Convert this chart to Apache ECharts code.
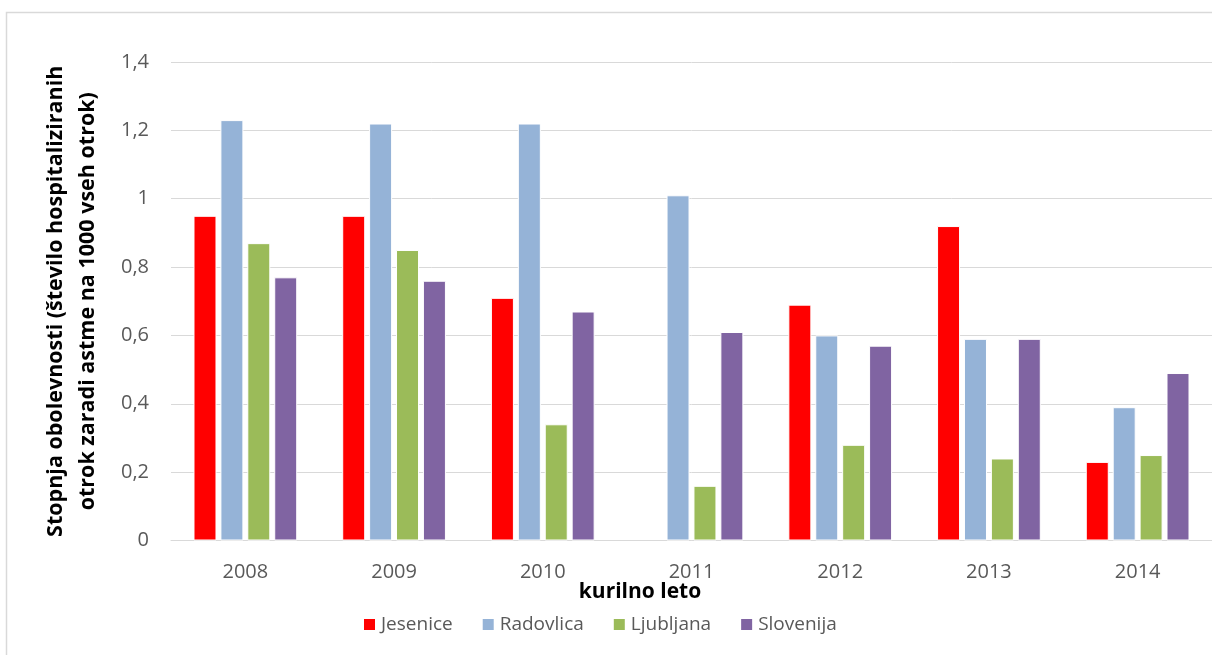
<!DOCTYPE html>
<html>
<head>
<meta charset="utf-8">
<script src="https://cdn.jsdelivr.net/npm/echarts@6/dist/echarts.min.js"></script>
<style>
html,body{margin:0;padding:0;background:#fff;}
#c{width:1212px;height:655px;}
</style>
</head>
<body>
<div id="c"></div>
<script>
const categories = ['2008','2009','2010','2011','2012','2013','2014'];
const jesenice  = [0.95, 0.95, 0.71, null, 0.69, 0.92, 0.23];
const radovlica = [1.23, 1.22, 1.22, 1.01, 0.60, 0.59, 0.39];
const ljubljana = [0.87, 0.85, 0.34, 0.16, 0.28, 0.24, 0.25];
const slovenija = [0.77, 0.76, 0.67, 0.61, 0.57, 0.59, 0.49];
const seriesNames = ['Jesenice','Radovlica','Ljubljana','Slovenija'];
const colors = ['#FF0000','#95B3D7','#9BBB59','#8064A2'];
const yTitle = 'Stopnja obolevnosti (število hospitaliziranih\notrok zaradi astme na 1000 vseh otrok)';
const xTitle = 'kurilno leto';

const font = 'Open Sans';
const chart = echarts.init(document.getElementById('c'));
const data = [jesenice, radovlica, ljubljana, slovenija];
chart.setOption({
  animation: false,
  textStyle: {fontFamily: font},
  graphic: [
    {type:'rect', shape:{x:6.5, y:12.5, width:1230, height:700}, style:{fill:'none', stroke:'#D9D9D9', lineWidth:1.5}, silent:true, z:-10},
    {type:'text', x:640, y:592, style:{text:xTitle, fontFamily:font, fontSize:21, fontWeight:'bold', fill:'#000', textAlign:'center', textVerticalAlign:'middle'}}
  ],
  grid: {left:171, top:62, width:1046, bottom:114.5, containLabel:false},
  legend: {
    data: seriesNames, top: 610, left: 357, padding: 5, itemWidth: 13, itemHeight: 13, itemGap: 28,
    icon: 'rect',
    textStyle: {color:'#595959', fontSize:19, fontFamily: font}
  },
  xAxis: {
    type: 'category', data: categories,
    axisLine: {lineStyle:{color:'#D9D9D9', width:1}},
    axisTick: {show:false},
    axisLabel: {color:'#595959', fontSize:20, margin:22, fontFamily: font}
  },
  yAxis: {
    type: 'value', min: 0, max: 1.4, interval: 0.2,
    axisLabel: {color:'#595959', fontSize:20, margin:22, fontFamily: font,
      formatter: v => (Math.round(v*10)/10).toString().replace('.', ',')},
    splitLine: {lineStyle:{color:'#D9D9D9', width:1}},
    axisLine: {show:false}, axisTick: {show:false},
    name: yTitle, nameLocation: 'middle', nameRotate: 90, nameGap: 67,
    nameTextStyle: {color:'#000', fontSize:21.5, fontWeight:'bold', lineHeight:32, fontFamily: font}
  },
  series: seriesNames.map((n,i) => ({
    name: n, type: 'bar', data: data[i], barWidth: 23, barGap: '17%',
    itemStyle: {color: colors[i], borderColor:'#fff', borderWidth:1}
  }))
});
</script>
</body>
</html>
